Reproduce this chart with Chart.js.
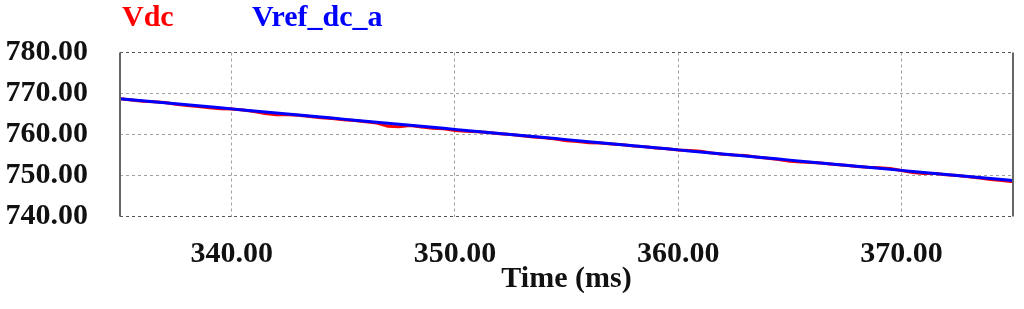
<!DOCTYPE html>
<html>
<head>
<meta charset="utf-8">
<script src="https://cdn.jsdelivr.net/npm/chart.js@4.4.0/dist/chart.umd.min.js"></script>
<style>
    html, body { margin: 0; padding: 0; background: #fff; }
    canvas { display: block; }
</style>
</head>
<body>
<canvas id="chart-vdc" width="1024" height="309"></canvas>
<script>
// --- Data (time in ms, voltage in V) ---
const timeMs = [
    335.0, 335.5, 336.0, 336.5, 337.0, 337.5, 338.0, 338.5, 339.0, 339.5,
    340.0, 340.5, 341.0, 341.5, 342.0, 342.5, 343.0, 343.5, 344.0, 344.5,
    345.0, 345.5, 346.0, 346.5, 347.0, 347.5, 348.0, 348.5, 349.0, 349.5,
    350.0, 350.5, 351.0, 351.5, 352.0, 352.5, 353.0, 353.5, 354.0, 354.5,
    355.0, 355.5, 356.0, 356.5, 357.0, 357.5, 358.0, 358.5, 359.0, 359.5,
    360.0, 360.5, 361.0, 361.5, 362.0, 362.5, 363.0, 363.5, 364.0, 364.5,
    365.0, 365.5, 366.0, 366.5, 367.0, 367.5, 368.0, 368.5, 369.0, 369.5,
    370.0, 370.5, 371.0, 371.5, 372.0, 372.5, 373.0, 373.5, 374.0, 374.5,
    375.0
];

const vrefDcA = [
    768.75, 768.50, 768.25, 768.00, 767.75, 767.50, 767.25, 767.00, 766.75, 766.50,
    766.25, 766.00, 765.75, 765.50, 765.25, 765.00, 764.75, 764.50, 764.25, 764.00,
    763.75, 763.50, 763.25, 763.00, 762.75, 762.50, 762.25, 762.00, 761.75, 761.50,
    761.25, 761.00, 760.75, 760.50, 760.25, 760.00, 759.75, 759.50, 759.25, 759.00,
    758.75, 758.50, 758.25, 758.00, 757.75, 757.50, 757.25, 757.00, 756.75, 756.50,
    756.25, 756.00, 755.75, 755.50, 755.25, 755.00, 754.75, 754.50, 754.25, 754.00,
    753.75, 753.50, 753.25, 753.00, 752.75, 752.50, 752.25, 752.00, 751.75, 751.50,
    751.25, 751.00, 750.75, 750.50, 750.25, 750.00, 749.75, 749.50, 749.25, 749.00,
    748.75
];

const vdc = [
    768.7, 768.4, 768.1, 768.0, 767.8, 767.4, 767.1, 766.8, 766.5, 766.3,
    766.2, 766.0, 765.6, 765.1, 764.8, 764.8, 764.7, 764.4, 764.1, 763.9,
    763.6, 763.4, 763.1, 762.8, 762.0, 761.9, 762.2, 761.8, 761.5, 761.4,
    761.0, 760.8, 760.7, 760.5, 760.2, 760.0, 759.7, 759.4, 759.2, 758.9,
    758.5, 758.3, 758.0, 757.9, 757.7, 757.5, 757.2, 757.0, 756.7, 756.5,
    756.2, 756.1, 755.9, 755.5, 755.2, 755.0, 754.9, 754.5, 754.2, 753.9,
    753.5, 753.3, 753.2, 753.0, 752.7, 752.5, 752.2, 752.0, 751.9, 751.7,
    751.2, 750.7, 750.5, 750.5, 750.2, 750.0, 749.7, 749.4, 749.0, 748.8,
    748.5
];

const xTicks = [340, 350, 360, 370];
const yTicks = [740, 750, 760, 770, 780];

const FONT = '"Liberation Serif", "Times New Roman", serif';

// Legend drawn as plain coloured labels, like the scope software does
const textLegend = {
    id: 'textLegend',
    afterDraw(chart) {
        const ctx = chart.ctx;
        const spots = [122, 252];
        ctx.save();
        ctx.font = 'bold 30px ' + FONT;
        ctx.textBaseline = 'alphabetic';
        ctx.textAlign = 'left';
        chart.data.datasets.forEach((ds, i) => {
            ctx.fillStyle = ds.borderColor;
            ctx.fillText(ds.label, spots[i], 26);
        });
        ctx.restore();
    }
};

// Solid left/right frame edges (top/bottom are the dashed 780/740 grid lines)
const frameSides = {
    id: 'frameSides',
    afterDatasetsDraw(chart) {
        const { ctx, chartArea } = chart;
        ctx.save();
        ctx.setLineDash([]);
        ctx.strokeStyle = '#666';
        ctx.lineWidth = 2;
        ctx.beginPath();
        ctx.moveTo(chartArea.left, chartArea.top);
        ctx.lineTo(chartArea.left, chartArea.bottom);
        ctx.moveTo(chartArea.right, chartArea.top);
        ctx.lineTo(chartArea.right, chartArea.bottom);
        ctx.stroke();
        ctx.restore();
    }
};

const series = (ys) => timeMs.map((t, i) => ({ x: t, y: ys[i] }));

new Chart(document.getElementById('chart-vdc').getContext('2d'), {
    type: 'line',
    data: {
        datasets: [
            {
                label: 'Vdc',
                data: series(vdc),
                borderColor: '#ff0000',
                borderWidth: 3,
                pointRadius: 0,
                tension: 0,
                order: 2
            },
            {
                label: 'Vref_dc_a',
                data: series(vrefDcA),
                borderColor: '#0000ff',
                borderWidth: 3,
                pointRadius: 0,
                tension: 0,
                order: 1
            }
        ]
    },
    options: {
        responsive: false,
        animation: false,
        layout: { padding: { top: 52.5, right: 11, left: 0, bottom: 0 } },
        plugins: {
            legend: { display: false },
            tooltip: { enabled: false }
        },
        scales: {
            x: {
                type: 'linear',
                min: 335,
                max: 375,
                afterBuildTicks: (scale) => { scale.ticks = xTicks.map(v => ({ value: v })); },
                afterFit: (scale) => { scale.height = 92.5; },
                border: { display: false, dash: [3, 3] },
                grid: {
                    drawTicks: false,
                    color: '#a0a0a0',
                    lineWidth: 1
                },
                ticks: {
                    padding: 20,
                    color: '#111',
                    font: { family: FONT, size: 30, weight: 'bold' },
                    callback: (v) => Number(v).toFixed(2)
                },
                title: {
                    display: true,
                    text: 'Time (ms)',
                    color: '#111',
                    font: { family: FONT, size: 30, weight: 'bold' },
                    padding: { top: 0, bottom: 12 }
                }
            },
            y: {
                min: 740,
                max: 780,
                afterBuildTicks: (scale) => { scale.ticks = yTicks.map(v => ({ value: v })); },
                afterFit: (scale) => { scale.width = 120; },
                border: { display: false, dash: [3, 3] },
                grid: {
                    drawTicks: false,
                    color: (c) => (c.tick && (c.tick.value === 780 || c.tick.value === 740)) ? '#555' : '#a0a0a0',
                    lineWidth: 1
                },
                ticks: {
                    padding: 32,
                    color: '#111',
                    font: { family: FONT, size: 30, weight: 'bold' },
                    callback: (v) => Number(v).toFixed(2)
                }
            }
        }
    },
    plugins: [textLegend, frameSides]
});
</script>
</body>
</html>
